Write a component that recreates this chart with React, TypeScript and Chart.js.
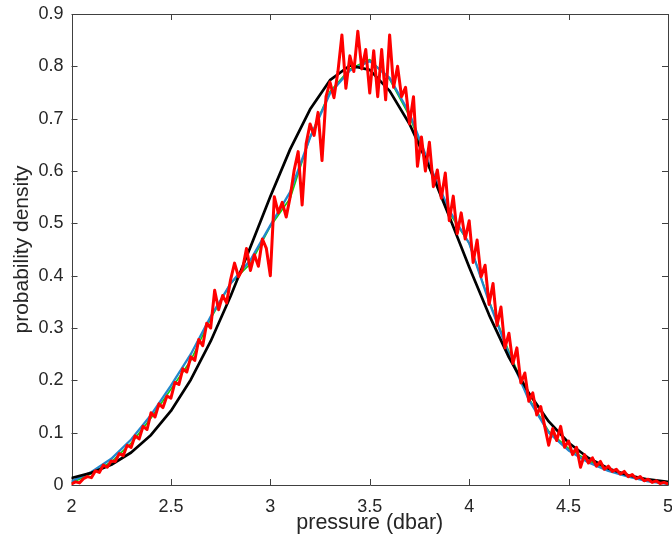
import React, { useEffect, useRef } from "react";
import { Chart, registerables } from "chart.js";

Chart.register(...registerables);

// ---- axes ----
const xMin = 2;
const xMax = 5;
const yMin = 0;
const yMax = 0.9;
const xTickValues = [2, 2.5, 3, 3.5, 4, 4.5, 5];
const xTickLabels = ["2", "2.5", "3", "3.5", "4", "4.5", "5"];
const yTickValues = [0, 0.1, 0.2, 0.3, 0.4, 0.5, 0.6, 0.7, 0.8, 0.9];
const yTickLabels = ["0", "0.1", "0.2", "0.3", "0.4", "0.5", "0.6", "0.7", "0.8", "0.9"];
const xAxisTitle = "pressure (dbar)";
const yAxisTitle = "probability density";

// ---- smooth curves (sampled every 0.1 dbar) ----
const smoothX = [
  2.0, 2.1, 2.2, 2.3, 2.4, 2.5, 2.6, 2.7, 2.8, 2.9,
  3.0, 3.1, 3.2, 3.3, 3.4, 3.5, 3.6, 3.7, 3.8, 3.9,
  4.0, 4.1, 4.2, 4.3, 4.4, 4.5, 4.6, 4.7, 4.8, 4.9, 5.0,
];
const gaussianFit = [
  0.0134, 0.0232, 0.0387, 0.0621, 0.0956, 0.1415, 0.2012, 0.2748, 0.3608, 0.455,
  0.5513, 0.6418, 0.7179, 0.7735, 0.8016, 0.7932, 0.7532, 0.6897, 0.6069, 0.513,
  0.4166, 0.3252, 0.2438, 0.1756, 0.1215, 0.0808, 0.0516, 0.0317, 0.0187, 0.0106, 0.0058,
];
const densityBlue = [
  0.007, 0.025, 0.05, 0.087, 0.134, 0.19, 0.25, 0.322, 0.385, 0.43,
  0.496, 0.56, 0.664, 0.748, 0.792, 0.81, 0.778, 0.71, 0.612, 0.525,
  0.462, 0.35, 0.25, 0.163, 0.1, 0.066, 0.043, 0.027, 0.016, 0.007, 0.002,
];
const densityGreen = [
  0.004, 0.022, 0.044, 0.08, 0.128, 0.183, 0.238, 0.318, 0.385, 0.423,
  0.494, 0.548, 0.665, 0.752, 0.795, 0.813, 0.775, 0.705, 0.605, 0.52,
  0.462, 0.352, 0.255, 0.166, 0.103, 0.07, 0.046, 0.03, 0.018, 0.008, 0.003,
];

// ---- raw histogram density (every 0.02 dbar from 2.00 to 5.00) ----
const rawStart = 2;
const rawStep = 0.02;
const rawDensity = [
  // 2.00 - 2.98
  0.002, 0.006, 0.004, 0.012, 0.016, 0.014, 0.027, 0.024, 0.038, 0.034,
  0.046, 0.045, 0.06, 0.056, 0.076, 0.072, 0.094, 0.088, 0.112, 0.106,
  0.138, 0.13, 0.155, 0.148, 0.17, 0.166, 0.196, 0.192, 0.222, 0.216,
  0.245, 0.238, 0.278, 0.266, 0.309, 0.3, 0.372, 0.335, 0.362, 0.348,
  0.392, 0.424, 0.398, 0.412, 0.452, 0.41, 0.44, 0.418, 0.47, 0.452,
  // 3.00 - 3.98
  0.4, 0.551, 0.52, 0.54, 0.512, 0.551, 0.602, 0.637, 0.535, 0.652,
  0.69, 0.668, 0.712, 0.62, 0.742, 0.77, 0.74, 0.79, 0.86, 0.758,
  0.82, 0.79, 0.867, 0.795, 0.832, 0.749, 0.83, 0.742, 0.832, 0.736,
  0.86, 0.76, 0.8, 0.742, 0.76, 0.69, 0.742, 0.609, 0.665, 0.6,
  0.655, 0.57, 0.602, 0.548, 0.596, 0.505, 0.552, 0.48, 0.52, 0.47,
  // 4.00 - 4.98
  0.505, 0.425, 0.468, 0.398, 0.42, 0.345, 0.385, 0.305, 0.34, 0.262,
  0.29, 0.232, 0.262, 0.195, 0.214, 0.16, 0.176, 0.134, 0.15, 0.112,
  0.076, 0.108, 0.085, 0.112, 0.072, 0.084, 0.058, 0.072, 0.034, 0.058,
  0.042, 0.052, 0.036, 0.045, 0.03, 0.036, 0.026, 0.03, 0.021, 0.026,
  0.016, 0.02, 0.012, 0.016, 0.008, 0.011, 0.005, 0.008, 0.003, 0.005,
  // 5.00
  0.002,
];

const FONT = "'Liberation Sans', Arial, Helvetica, sans-serif";
const TEXT_COLOR = "#262626";
const AXIS_COLOR = "#404040";

function labelFor(values: number[], labels: string[], v: number): string {
  const i = values.findIndex((t) => Math.abs(t - v) < 1e-9);
  return i >= 0 ? labels[i] : "";
}

const axesBox = {
  id: "axesBox",
  beforeDatasetsDraw(chart: any) {
    const { ctx, chartArea, scales } = chart;
    const { left, right, top, bottom } = chartArea;
    const xs = scales.x;
    const ys = scales.y;
    const tl = 6;
    ctx.save();
    ctx.strokeStyle = AXIS_COLOR;
    ctx.lineWidth = 1;
    ctx.beginPath();
    ctx.rect(Math.round(left) + 0.5, Math.round(top) + 0.5, Math.round(right) - Math.round(left), Math.round(bottom) - Math.round(top));
    for (const v of xTickValues) {
      const px = Math.round(xs.getPixelForValue(v)) + 0.5;
      ctx.moveTo(px, bottom);
      ctx.lineTo(px, bottom - tl);
      ctx.moveTo(px, top);
      ctx.lineTo(px, top + tl);
    }
    for (const v of yTickValues) {
      const py = Math.round(ys.getPixelForValue(v)) + 0.5;
      ctx.moveTo(left, py);
      ctx.lineTo(left + tl, py);
      ctx.moveTo(right, py);
      ctx.lineTo(right - tl, py);
    }
    ctx.stroke();
    ctx.restore();
  },
};

export default function App() {
  const canvasRef = useRef<HTMLCanvasElement | null>(null);

  useEffect(() => {
    const canvas = canvasRef.current;
    if (!canvas) return;

    const rawPoints = rawDensity.map((y, i) => ({
      x: Math.round((rawStart + i * rawStep) * 100) / 100,
      y,
    }));
    const toPts = (ys: number[]) => ys.map((y, i) => ({ x: smoothX[i], y }));

    const chart = new Chart(canvas, {
      type: "line",
      data: {
        datasets: [
          {
            label: "histogram",
            data: rawPoints,
            borderColor: "#ff0000",
            borderWidth: 3,
            pointRadius: 0,
            tension: 0,
          },
          {
            label: "gaussian",
            data: toPts(gaussianFit),
            borderColor: "#000000",
            borderWidth: 2.7,
            pointRadius: 0,
            tension: 0,
          },
          {
            label: "kde1",
            data: toPts(densityBlue),
            borderColor: "#2288cc",
            borderWidth: 2.3,
            pointRadius: 0,
            tension: 0,
          },
          {
            label: "kde2",
            data: toPts(densityGreen),
            borderColor: "#12d00a",
            borderWidth: 1.6,
            pointRadius: 0,
            tension: 0,
          },
        ],
      },
      options: {
        animation: false,
        responsive: false,
        maintainAspectRatio: false,
        devicePixelRatio: 1,
        layout: { padding: { top: 14, right: 4, left: 0, bottom: 0 } },
        plugins: {
          legend: { display: false },
          tooltip: { enabled: false },
        },
        elements: { line: { borderJoinStyle: "round", borderCapStyle: "round" } },
        scales: {
          x: {
            type: "linear",
            min: xMin,
            max: xMax,
            grid: { display: false, drawTicks: false },
            border: { display: false },
            afterBuildTicks: (s: any) => {
              s.ticks = xTickValues.map((v) => ({ value: v }));
            },
            afterFit: (s: any) => {
              s.height = 57;
              s.paddingLeft = 0;
              s.paddingRight = 0;
            },
            ticks: {
              autoSkip: false,
              maxRotation: 0,
              padding: 11,
              color: TEXT_COLOR,
              font: { family: FONT, size: 18 },
              callback: (v: any) => labelFor(xTickValues, xTickLabels, Number(v)),
            },
            title: {
              display: true,
              text: xAxisTitle,
              color: TEXT_COLOR,
              font: { family: FONT, size: 21.5 },
              padding: { top: 0, bottom: 6 },
            },
          },
          y: {
            type: "linear",
            min: yMin,
            max: yMax,
            grid: { display: false, drawTicks: false },
            border: { display: false },
            afterBuildTicks: (s: any) => {
              s.ticks = yTickValues.map((v) => ({ value: v }));
            },
            afterFit: (s: any) => {
              s.width = 71.5;
              s.paddingTop = 0;
              s.paddingBottom = 0;
            },
            ticks: {
              autoSkip: false,
              padding: 8,
              color: TEXT_COLOR,
              font: { family: FONT, size: 18 },
              callback: (v: any) => labelFor(yTickValues, yTickLabels, Number(v)),
            },
            title: {
              display: true,
              text: yAxisTitle,
              color: TEXT_COLOR,
              font: { family: FONT, size: 21 },
              padding: { top: 10, bottom: 0 },
            },
          },
        },
      },
      plugins: [axesBox],
    });

    return () => {
      chart.destroy();
    };
  }, []);

  return (
    <div style={{ position: "fixed", left: 0, top: 0, width: 672, height: 542, background: "#ffffff" }}>
      <canvas ref={canvasRef} width={672} height={542} style={{ display: "block", width: 672, height: 542 }} />
    </div>
  );
}
